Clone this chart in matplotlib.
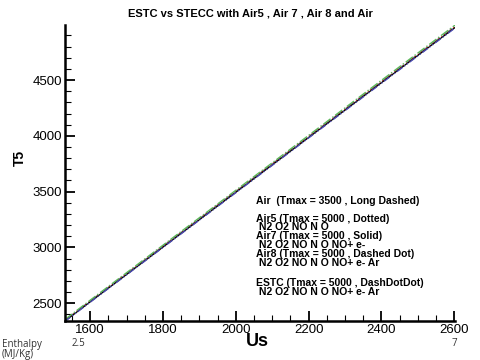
import numpy as np
import matplotlib.pyplot as plt
from matplotlib.ticker import MultipleLocator

# shock speed Us (m/s) and reflected shock temperature T5 (K)
us = [1531, 1600, 1800, 2000, 2200, 2400, 2602]
t5_air = [2348, 2520, 3012, 3503, 3994, 4486, 4980]
t5_air5 = [2346, 2517, 3008, 3499, 3990, 4481, 4975]
t5_air7 = [2341, 2512, 3003, 3494, 3985, 4476, 4970]
t5_air8 = [2355, 2527, 3020, 3512, 4004, 4497, 4992]
t5_estc = [2338, 2509, 3000, 3490, 3981, 4471, 4966]

legend_lines = [
    ("Air  (Tmax = 3500 , Long Dashed)", 201),
    ("Air5 (Tmax = 5000 , Dotted)", 219),
    (" N2 O2 NO N O", 227.5),
    ("Air7 (Tmax = 5000 , Solid)", 236),
    (" N2 O2 NO N O NO+ e-", 244.5),
    ("Air8 (Tmax = 5000 , Dashed Dot)", 254),
    (" N2 O2 NO N O NO+ e- Ar", 263),
    ("ESTC (Tmax = 5000 , DashDotDot)", 283),
    (" N2 O2 NO N O NO+ e- Ar", 292),
]

plt.rcParams['font.family'] = ['Liberation Sans', 'DejaVu Sans']

fig = plt.figure(figsize=(4.81, 3.6), dpi=100)
ax = fig.add_axes([65 / 481, 39 / 360, 390 / 481, 296 / 360])

ax.plot(us, t5_air, color='gray', lw=1, dashes=(8, 3))
ax.plot(us, t5_air5, color='red', lw=1, ls=':')
ax.plot(us, t5_air7, color='black', lw=0.9)
ax.plot(us, t5_air8, color='#5cb85c', lw=1, ls='-.')
ax.plot(us, t5_estc, color='#4a4ab0', lw=1, dashes=(5, 1.5, 1, 1.5, 1, 1.5))

ax.set_xlim(1531, 2602)
ax.set_ylim(2341, 4993)
ax.xaxis.set_major_locator(MultipleLocator(200))
ax.xaxis.set_minor_locator(MultipleLocator(50))
ax.yaxis.set_major_locator(MultipleLocator(500))
ax.yaxis.set_minor_locator(MultipleLocator(100))
ax.tick_params(which='both', direction='in', top=False, right=False, labelsize=9.5, pad=2)
ax.tick_params(which='major', length=7, width=1.3)
ax.tick_params(which='minor', length=4, width=0.8)
ax.spines['top'].set_visible(False)
ax.spines['right'].set_visible(False)
ax.spines['left'].set_linewidth(1.8)
ax.spines['bottom'].set_linewidth(1.8)

ax.set_ylabel('T5', fontsize=10, fontweight='bold')
ax.yaxis.set_label_coords(-38 / 390, 0.55)
fig.text(257 / 481, 1 - 342 / 360, 'Us', fontsize=13, fontweight='bold', ha='center', va='center')
fig.text(250 / 481, 1 - 13 / 360, 'ESTC vs STECC with Air5 , Air 7 , Air 8 and Air',
         fontsize=8, fontweight='bold', ha='center', va='center')

for txt, ypix in legend_lines:
    fig.text(256 / 481, 1 - ypix / 360, txt, fontsize=7.5, fontweight='bold',
             ha='left', va='center')

fig.text(2 / 481, 1 - 344 / 360, 'Enthalpy', fontsize=7, color='#333333', family='Open Sans', va='center')
fig.text(2 / 481, 1 - 355 / 360, '(MJ/Kg)', fontsize=7, color='#333333', family='Open Sans', va='center')
fig.text(72 / 481, 1 - 344 / 360, '2.5', fontsize=7, color='#333333', family='Open Sans', va='center')
fig.text(452 / 481, 1 - 344 / 360, '7', fontsize=7, color='#333333', family='Open Sans', va='center')

fig.savefig('out.png', dpi=100)
